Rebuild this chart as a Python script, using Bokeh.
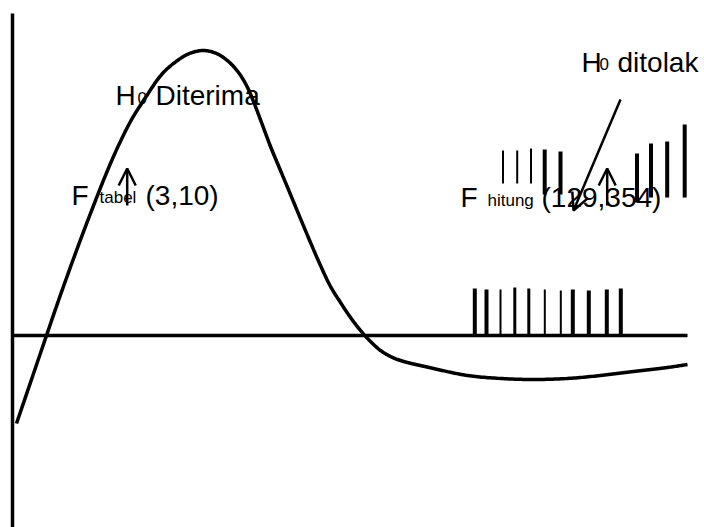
import numpy as np
from bokeh.plotting import figure
from bokeh.models import Range1d, ColumnDataSource, Arrow, OpenHead
from bokeh.core.properties import value
from bokeh.embed import file_html
from bokeh.resources import INLINE

# ---- data (diagram units: x right from vertical axis, y up from horizontal axis)
curve_x = [4, 34, 46, 64, 83, 95, 106, 118, 133, 150, 165, 177, 191,
           204, 216, 226, 234, 241, 249, 258, 268, 278, 298, 308, 318, 328,
           338, 348, 358, 368, 378, 388, 421, 455, 488, 521, 555, 588, 621,
           655, 675]
curve_y = [-88, 0, 35, 85, 135, 165, 190, 214, 238, 262, 275, 282, 285,
           282, 274, 263, 250, 234, 213, 189, 165, 141, 93, 70, 49, 33,
           18, 5, -6, -15, -21, -25, -33, -40, -43, -44, -43, -40, -36,
           -32, -29]

haxis_x = [0, 675]
haxis_y = [0, 0]
vaxis_x = [0, 0]
vaxis_y = [322, -200]

# rejection-region hatch lines on the horizontal axis
bot_x = [462.3, 474, 488, 502.3, 516.3, 532.3, 548.3, 560.3, 576.3, 594.3, 608.3]
bot_top = [47, 46, 46, 48, 47, 46, 45, 46, 45, 46, 47]
bot_w = [4, 4, 2, 3, 3, 2, 2, 4, 4, 4, 4]

# hatch lines around "F hitung"
top_x = [490.5, 504.7, 518.5, 532.2, 548, 624.5, 638.5, 654.7, 672.2]
top_y0 = [152, 152, 152, 141, 141, 133, 138, 138, 138]
top_y1 = [185, 185, 187, 186, 184, 182, 192, 194, 211]
top_w = [2, 2, 2, 4, 4, 4, 4, 4, 4]

# arrows
arr_x0 = [114.7, 594.7, 608]
arr_y0 = [130, 130, 236]
arr_x1 = [114.7, 594.7, 561]
arr_y1 = [167, 167, 125]

# texts
big_text = ["H", "Diterima", "F", "(3,10)", "F", "(129,354)", "H", "ditolak"]
big_x = [103, 143, 59, 133, 448, 529, 569, 605]
big_y = [240, 240, 140, 140, 138, 138, 273, 273]
sub_text = ["0", "tabel", "hitung", "0"]
sub_x = [125, 87, 475, 587]
sub_y = [238, 138, 135, 272]


def smooth(xs, ys, n=16, alpha=0.5):
    """Centripetal Catmull-Rom rendering of the read-off points as one stroke."""
    pts = np.column_stack([xs, ys]).astype(float)
    P = np.vstack([2 * pts[0] - pts[1], pts, 2 * pts[-1] - pts[-2]])
    out = []
    for i in range(1, len(P) - 2):
        p0, p1, p2, p3 = P[i - 1], P[i], P[i + 1], P[i + 2]
        t0 = 0.0
        t1 = t0 + np.linalg.norm(p1 - p0) ** alpha
        t2 = t1 + np.linalg.norm(p2 - p1) ** alpha
        t3 = t2 + np.linalg.norm(p3 - p2) ** alpha
        t = np.linspace(t1, t2, n, endpoint=False)[:, None]
        a1 = (t1 - t) / (t1 - t0) * p0 + (t - t0) / (t1 - t0) * p1
        a2 = (t2 - t) / (t2 - t1) * p1 + (t - t1) / (t2 - t1) * p2
        a3 = (t3 - t) / (t3 - t2) * p2 + (t - t2) / (t3 - t2) * p3
        b1 = (t2 - t) / (t2 - t0) * a1 + (t - t0) / (t2 - t0) * a2
        b2 = (t3 - t) / (t3 - t1) * a2 + (t - t1) / (t3 - t1) * a3
        out.append((t2 - t) / (t2 - t1) * b1 + (t - t1) / (t2 - t1) * b2)
    out.append(pts[-1][None, :])
    s = np.vstack(out)
    return s[:, 0], s[:, 1]


p = figure(width=704, height=527, output_backend="svg", toolbar_location=None,
           x_range=Range1d(-12, 692), y_range=Range1d(-192, 335),
           min_border=0, min_border_left=0, min_border_right=0,
           min_border_top=0, min_border_bottom=0)
p.axis.visible = False
p.grid.visible = False
p.outline_line_color = None
p.background_fill_color = "white"
p.border_fill_color = "white"

font = value("Liberation Sans")

p.text(x=big_x, y=big_y, text=big_text, text_font=font, text_font_size="28px",
       text_color="black", text_baseline="alphabetic", text_align="left")
p.text(x=sub_x, y=sub_y, text=sub_text, text_font=font, text_font_size="17px",
       text_color="black", text_baseline="alphabetic", text_align="left")

p.line(haxis_x, haxis_y, line_color="black", line_width=3.5)
p.line(vaxis_x, vaxis_y, line_color="black", line_width=3.5)
sx, sy = smooth(curve_x, curve_y)
p.line(sx, sy, line_color="black", line_width=3.5, line_join="round")

p.segment(x0=bot_x, y0=[0] * len(bot_x), x1=bot_x, y1=bot_top,
          line_color="black", line_width=bot_w)
p.segment(x0=top_x, y0=top_y0, x1=top_x, y1=top_y1,
          line_color="black", line_width=top_w)

src = ColumnDataSource(dict(x0=arr_x0, y0=arr_y0, x1=arr_x1, y1=arr_y1))
p.add_layout(Arrow(x_start="x0", y_start="y0", x_end="x1", y_end="y1", source=src,
                   line_color="black", line_width=2.5,
                   end=OpenHead(size=17, line_width=2.5, line_color="black")))

open("out.html", "w").write(file_html(p, INLINE))
